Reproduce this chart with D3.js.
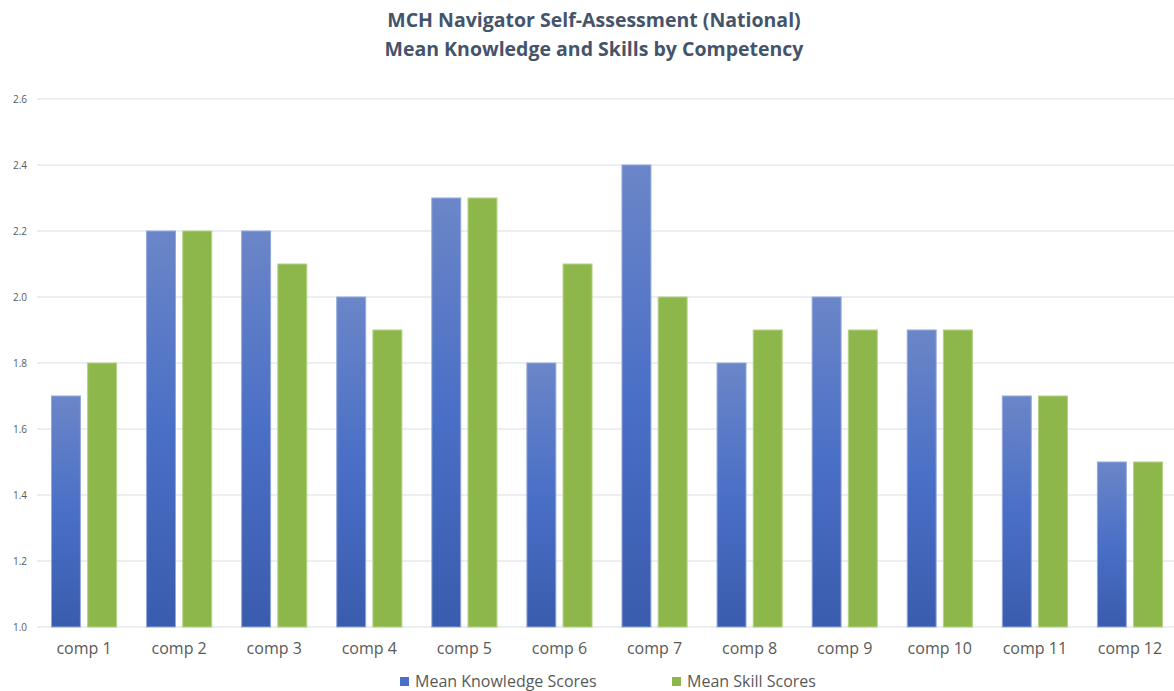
<!DOCTYPE html>
<html>
<head>
<meta charset="utf-8">
<script src="https://cdn.jsdelivr.net/npm/d3@7"></script>
<style>
  body { margin: 0; background: #fff; }
  svg { display: block; }
</style>
</head>
<body>
<div id="chart"></div>
<script>
// data
const categories = ["comp 1", "comp 2", "comp 3", "comp 4", "comp 5", "comp 6",
                    "comp 7", "comp 8", "comp 9", "comp 10", "comp 11", "comp 12"];
const knowledge = [1.7, 2.2, 2.2, 2.0, 2.3, 1.8, 2.4, 1.8, 2.0, 1.9, 1.7, 1.5];
const skill     = [1.8, 2.2, 2.1, 1.9, 2.3, 2.1, 2.0, 1.9, 1.9, 1.9, 1.7, 1.5];
const seriesNames = ["Mean Knowledge Scores", "Mean Skill Scores"];
const yTicks = [1.0, 1.2, 1.4, 1.6, 1.8, 2.0, 2.2, 2.4, 2.6];

const W = 1174, H = 691;
const textColor = "#595959";

const svg = d3.select("#chart").append("svg")
    .attr("width", W)
    .attr("height", H);

// gradient for knowledge bars
const defs = svg.append("defs");
const grad = defs.append("linearGradient")
    .attr("id", "blueGrad")
    .attr("x1", 0).attr("y1", 0).attr("x2", 0).attr("y2", 1);
grad.append("stop").attr("offset", "0%").attr("stop-color", "#6b86c8");
grad.append("stop").attr("offset", "50%").attr("stop-color", "#4a6fc6");
grad.append("stop").attr("offset", "100%").attr("stop-color", "#3a5cae");

// scales
const x = d3.scaleBand()
    .domain(categories)
    .range([36.5, 1177.5])
    .paddingInner(0.315)
    .paddingOuter(0.1575);

const x1 = d3.scaleBand()
    .domain(seriesNames)
    .range([0, x.bandwidth()])
    .paddingInner(0.2);

const y = d3.scaleLinear()
    .domain([1.0, 2.6])
    .range([627, 99]);

// gridlines
svg.append("g")
    .selectAll("line")
    .data(yTicks)
    .join("line")
    .attr("x1", 37)
    .attr("x2", W)
    .attr("y1", d => y(d))
    .attr("y2", d => y(d))
    .attr("stroke", "#e4e8ee")
    .attr("stroke-width", 1.5);

// y axis labels
const yAxis = svg.append("g")
    .attr("transform", "translate(27,0)")
    .call(d3.axisLeft(y).tickValues(yTicks).tickFormat(d3.format(".1f")).tickSize(0).tickPadding(0));
yAxis.select(".domain").remove();
yAxis.selectAll("text")
    .attr("fill", textColor)
    .style("font-family", "'Open Sans', sans-serif")
    .style("font-size", "10px");

// bars
const groups = svg.append("g")
    .selectAll("g")
    .data(categories.map((c, i) => ({ cat: c, vals: [knowledge[i], skill[i]] })))
    .join("g")
    .attr("transform", d => `translate(${x(d.cat)},0)`);

groups.selectAll("rect")
    .data(d => d.vals.map((v, j) => ({ name: seriesNames[j], value: v })))
    .join("rect")
    .attr("x", d => x1(d.name))
    .attr("y", d => y(d.value))
    .attr("width", x1.bandwidth())
    .attr("height", d => y(1.0) - y(d.value))
    .attr("fill", d => d.name === seriesNames[0] ? "url(#blueGrad)" : "#8db74a")
    .attr("stroke", d => d.name === seriesNames[0] ? "#93a8db" : "#b3d283")
    .attr("stroke-width", 1);

// x axis labels
const xAxis = svg.append("g")
    .attr("transform", "translate(0,643)")
    .call(d3.axisBottom(x).tickSize(0).tickPadding(0));
xAxis.select(".domain").remove();
xAxis.selectAll("text")
    .attr("fill", textColor)
    .attr("dy", "0.71em")
    .style("font-family", "'Open Sans', sans-serif")
    .style("font-size", "16px");

// title
const title = svg.append("text")
    .attr("x", 594)
    .attr("text-anchor", "middle")
    .attr("fill", "#44546a")
    .style("font-family", "'Open Sans', sans-serif")
    .style("font-weight", "bold")
    .style("font-size", "19.5px");
title.append("tspan").attr("x", 594).attr("y", 27).text("MCH Navigator Self-Assessment (National)");
title.append("tspan").attr("x", 594).attr("y", 56).text("Mean Knowledge and Skills by Competency");

// legend
const legendItems = [
    { name: seriesNames[0], color: "#4a6fc6", x: 400 },
    { name: seriesNames[1], color: "#8db74a", x: 672 }
];
const legend = svg.append("g").selectAll("g")
    .data(legendItems)
    .join("g")
    .attr("transform", d => `translate(${d.x},677)`);
legend.append("rect")
    .attr("width", 9).attr("height", 9)
    .attr("fill", d => d.color);
legend.append("text")
    .attr("x", 15)
    .attr("y", 10)
    .attr("fill", textColor)
    .style("font-family", "'Open Sans', sans-serif")
    .style("font-size", "16px")
    .text(d => d.name);
</script>
</body>
</html>
